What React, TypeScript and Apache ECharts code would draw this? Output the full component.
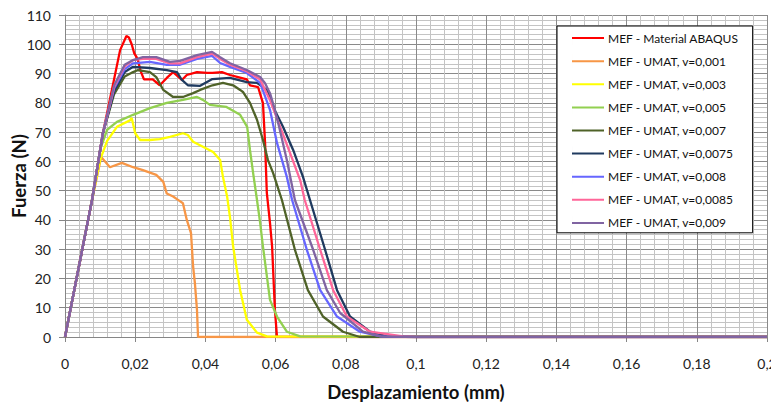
import React, { useEffect, useRef } from "react";
import * as echarts from "echarts";

const seriesNames = [
  "MEF - Material ABAQUS",
  "MEF - UMAT, v=0,001",
  "MEF - UMAT, v=0,003",
  "MEF - UMAT, v=0,005",
  "MEF - UMAT, v=0,007",
  "MEF - UMAT, v=0,0075",
  "MEF - UMAT, v=0,008",
  "MEF - UMAT, v=0,0085",
  "MEF - UMAT, v=0,009",
];

const seriesColors = ["#FF0000", "#F79646", "#FFFF00", "#92D050", "#4F6228", "#1F3A5F", "#6666FF", "#FF6699", "#8064A2"];

const abaqus = [[0,0],[0.0077,46.8],[0.0108,69.6],[0.0157,98],[0.0175,102.8],[0.0182,102.3],[0.0190,100],[0.0197,97],[0.0207,95],[0.0215,91],[0.0225,88],[0.025,88],[0.027,86],[0.029,88.5],[0.0308,90.5],[0.0333,87.8],[0.0347,89.5],[0.0376,90.5],[0.0405,90.2],[0.042,90.2],[0.0447,90.5],[0.047,89.5],[0.0493,88.8],[0.0518,88],[0.0527,86],[0.055,85.4],[0.0564,79.9],[0.057,66.3],[0.0575,49.2],[0.0584,39],[0.059,31],[0.0598,9.3],[0.0604,0],[0.2,0]];
const v0010 = [[0,0],[0.0077,46.8],[0.0103,61.5],[0.0128,58],[0.0162,59.5],[0.0194,58],[0.0222,57],[0.026,55.4],[0.028,53],[0.029,49],[0.0308,48],[0.032,47],[0.0336,45.7],[0.0347,40],[0.0359,35.5],[0.0365,24],[0.037,18.5],[0.0376,9.3],[0.0379,0],[0.2,0]];
const v0030 = [[0,0],[0.0077,46.8],[0.0100,60.5],[0.012,67],[0.0148,71.8],[0.0185,74],[0.019,74.8],[0.0200,69.6],[0.0214,67.3],[0.0242,67.3],[0.027,67.6],[0.0299,68.4],[0.0336,69.6],[0.035,69],[0.0365,66.7],[0.0393,65],[0.0422,63.2],[0.0442,60.5],[0.045,54.7],[0.0462,47.9],[0.047,41],[0.0479,30.9],[0.0499,16],[0.0518,5.9],[0.0547,1.5],[0.0575,0.2],[0.2,0]];
const v0050 = [[0,0],[0.0077,46.8],[0.0100,64],[0.012,70.8],[0.0148,73.5],[0.0194,75.9],[0.0242,78.2],[0.029,80],[0.0336,81],[0.0376,82],[0.0393,81],[0.0413,79.3],[0.046,78.6],[0.0499,75.9],[0.0519,71.8],[0.0527,63.9],[0.0536,56],[0.0547,46.8],[0.0556,39],[0.0564,30.9],[0.0584,12.7],[0.0604,7],[0.0632,1.8],[0.067,0.2],[0.2,0]];
const v0070 = [[0,0],[0.0077,46.8],[0.0108,69.6],[0.014,83],[0.017,89],[0.0194,90.5],[0.0208,91.2],[0.0242,90.5],[0.026,88.8],[0.028,84.4],[0.0308,82],[0.0336,82],[0.0365,83.3],[0.0385,84.4],[0.042,86],[0.045,86.8],[0.0479,86],[0.0499,84.4],[0.0507,83.7],[0.0527,80],[0.0547,74.2],[0.0564,67.3],[0.0578,60.5],[0.0593,56],[0.0618,46.8],[0.0655,29.8],[0.0692,16],[0.0735,7],[0.0792,1.8],[0.084,0],[0.2,0]];
const v0075 = [[0,0],[0.0077,46.8],[0.0108,69.6],[0.014,84],[0.017,90.5],[0.0194,92.3],[0.0242,91.9],[0.029,91.2],[0.0319,90.5],[0.0333,87.8],[0.035,86],[0.0385,85.8],[0.042,88.1],[0.047,88.5],[0.0518,87.1],[0.0547,86.8],[0.0575,84.4],[0.0593,78.6],[0.0621,71.8],[0.065,63.9],[0.0678,54.7],[0.0698,46.8],[0.0741,29.8],[0.0775,16],[0.0812,7],[0.0869,1.8],[0.0917,0.2],[0.1,0],[0.2,0]];
const v0080 = [[0,0],[0.0077,46.8],[0.0108,69.6],[0.014,85],[0.017,91.5],[0.0194,93.5],[0.0242,94],[0.029,93],[0.0328,93],[0.0376,95],[0.0419,96],[0.0442,93.6],[0.047,92.3],[0.0518,90.2],[0.0556,86.8],[0.0584,77.6],[0.0604,66.3],[0.0632,54.7],[0.0647,46.8],[0.0689,29.8],[0.0727,16],[0.0775,7],[0.084,1.8],[0.09,0.2],[0.1,0],[0.2,0]];
const v0085 = [[0,0],[0.0077,46.8],[0.0108,69.6],[0.014,85.5],[0.017,92.5],[0.0194,94.6],[0.0222,95],[0.026,95],[0.0299,93.5],[0.0328,93.5],[0.0376,95.6],[0.0419,96.8],[0.0442,95],[0.047,93],[0.0518,90.8],[0.0556,88],[0.0584,80.9],[0.0613,71.8],[0.0641,62.9],[0.067,53.6],[0.0683,46.8],[0.0727,29.8],[0.0764,16],[0.0803,7],[0.0869,1.8],[0.0963,0.2],[0.1,0],[0.2,0]];
const v0090 = [[0,0],[0.0077,46.8],[0.0108,69.6],[0.014,86],[0.017,93],[0.0194,94.6],[0.0222,95.6],[0.026,95.6],[0.0299,94],[0.0328,94.3],[0.0376,96.3],[0.0419,97.4],[0.0442,95.6],[0.047,93.5],[0.0518,91.2],[0.0556,88.8],[0.057,86.7],[0.0584,83.3],[0.0597,78],[0.061,71.8],[0.0632,60.5],[0.0655,46.8],[0.0707,29.8],[0.0746,16],[0.0784,8.2],[0.0849,1.8],[0.09,0.2],[0.1,0],[0.2,0]];

const seriesData = [abaqus, v0010, v0030, v0050, v0070, v0075, v0080, v0085, v0090];

const FONT = "Lato";
const LEGEND_ICON = "path://M0,6.1h32v2h-32zM0,0h0.01v14h-0.01z";

export default function App() {
  const ref = useRef<HTMLDivElement>(null);
  useEffect(() => {
    if (!ref.current) return;
    const chart = echarts.init(ref.current, null, { renderer: "svg" });
    const fmt = (v: number) => String(+v.toFixed(2)).replace(".", ",");
    chart.setOption({
      animation: false,
      backgroundColor: "#ffffff",
      textStyle: { fontFamily: FONT },
      grid: { left: 57, right: 12, top: 7, bottom: 68, containLabel: false, outerBoundsMode: "none" },
      legend: {
        orient: "vertical",
        left: 549,
        top: 18,
        data: seriesNames.map((n) => ({ name: n, icon: LEGEND_ICON })),
        backgroundColor: "#ffffff",
        borderColor: "#000000",
        borderWidth: 1,
        padding: [5, 14, 3, 15],
        itemGap: 9.1,
        itemWidth: 32,
        itemHeight: 14,
        itemStyle: { borderWidth: 0 },
        textStyle: { fontFamily: FONT, fontSize: 12, color: "#111111", padding: [0, 0, 0, -1] },
      },
      xAxis: {
        type: "value",
        min: 0,
        max: 0.2,
        interval: 0.02,
        name: "Desplazamiento (mm)",
        nameLocation: "middle",
        nameGap: 45,
        nameMoveOverlap: false,
        nameTextStyle: { fontFamily: FONT, fontWeight: "bold", fontSize: 18.5, color: "#111111" },
        axisLine: { show: true, lineStyle: { color: "#868686", width: 1 } },
        axisTick: { show: true, length: 5, lineStyle: { color: "#868686" } },
        axisLabel: { formatter: fmt, fontSize: 14, color: "#222222", margin: 19, fontFamily: FONT },
        splitLine: { show: true, lineStyle: { color: "#8a8a8a", width: 1 } },
        minorTick: { show: false, splitNumber: 5 },
        minorSplitLine: { show: true, lineStyle: { color: "#c4c4c4", width: 1 } },
      },
      yAxis: {
        type: "value",
        min: 0,
        max: 110,
        interval: 10,
        name: "Fuerza (N)",
        nameLocation: "middle",
        nameGap: 37,
        nameMoveOverlap: false,
        nameTextStyle: { fontFamily: FONT, fontWeight: "bold", fontSize: 18.5, color: "#111111" },
        axisLine: { show: true, lineStyle: { color: "#868686", width: 1 } },
        axisTick: { show: true, length: 6, lineStyle: { color: "#868686" } },
        axisLabel: { fontSize: 14, color: "#222222", margin: 14, fontFamily: FONT },
        splitLine: { show: true, lineStyle: { color: "#8a8a8a", width: 1 } },
        minorTick: { show: false, splitNumber: 6 },
        minorSplitLine: { show: true, lineStyle: { color: "#c4c4c4", width: 1 } },
      },
      series: seriesNames.map((name, i) => ({
        name,
        type: "line",
        data: seriesData[i],
        symbol: "none",
        showSymbol: false,
        lineStyle: { color: seriesColors[i], width: 2.3 },
        itemStyle: { color: seriesColors[i] },
        z: 2 + i,
      })),
    });
    return () => chart.dispose();
  }, []);
  return <div ref={ref} style={{ width: 771, height: 397 }} />;
}
